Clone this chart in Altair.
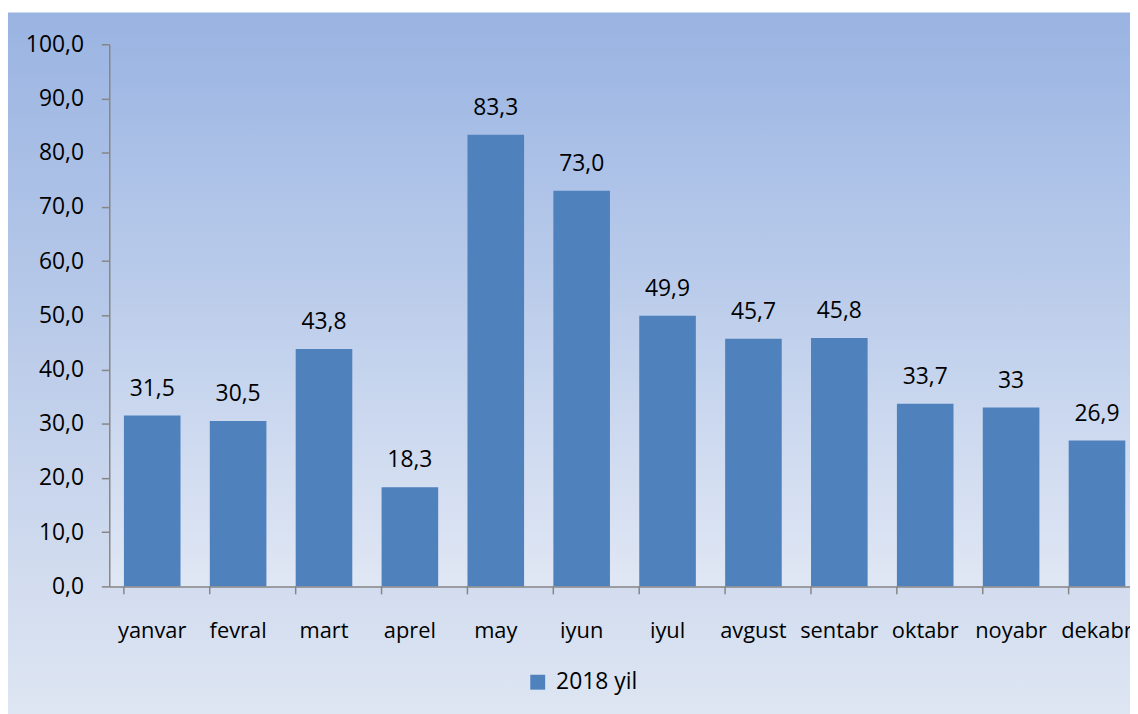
import altair as alt
import pandas as pd

months = ["yanvar", "fevral", "mart", "aprel", "may", "iyun", "iyul",
          "avgust", "sentabr", "oktabr", "noyabr", "dekabr"]
values = [31.5, 30.5, 43.8, 18.3, 83.3, 73.0, 49.9, 45.7, 45.8, 33.7, 33.0, 26.9]
labels = ["31,5", "30,5", "43,8", "18,3", "83,3", "73,0", "49,9", "45,7",
          "45,8", "33,7", "33", "26,9"]
series = "2018 yil"
y_ticks = [0, 10, 20, 30, 40, 50, 60, 70, 80, 90, 100]

df = pd.DataFrame({"month": months, "value": values, "label": labels,
                   "series": [series] * len(months)})

FONT = "Open Sans"
W, H = 1028, 546

xscale = alt.Scale(domain=months, range=[0, 1038], paddingInner=0.34, paddingOuter=0.17)
yscale = alt.Scale(domain=[0, 100], nice=False)

one = pd.DataFrame({"k": [0]})

bg = alt.Chart(one).mark_rect(
    fill=alt.Gradient(gradient="linear", x1=0, y1=0, x2=0, y2=1,
                      stops=[alt.GradientStop(color="#9AB4E2", offset=0),
                             alt.GradientStop(color="#D3DDEF", offset=0.82),
                             alt.GradientStop(color="#DEE6F3", offset=1)])
).encode(x=alt.value(-102), x2=alt.value(1060), y=alt.value(-32), y2=alt.value(680))

plot_bg = alt.Chart(one).mark_rect(
    fill=alt.Gradient(gradient="linear", x1=0, y1=0, x2=0, y2=1,
                      stops=[alt.GradientStop(color="#9CB6E3", offset=0),
                             alt.GradientStop(color="#E0E7F4", offset=1)])
).encode(x=alt.value(0), x2=alt.value(1060), y=alt.value(0), y2=alt.value(H))

bars = alt.Chart(df).mark_bar(size=57).encode(
    x=alt.X("month:N", scale=xscale, sort=months,
            axis=alt.Axis(title=None, ticks=False, domain=True, domainColor="#868686",
                          domainWidth=1.5, labelAngle=0, labelFont=FONT, labelFontSize=22,
                          labelColor="#000000", labelPadding=51, labelBaseline="alphabetic",
                          labelOverlap=False, zindex=2)),
    y=alt.Y("value:Q", scale=yscale,
            axis=alt.Axis(title=None, values=y_ticks, grid=False, domainColor="#868686",
                          domainWidth=1.5, tickColor="#868686", tickSize=8, tickWidth=1.5,
                          labelFont=FONT, labelFontSize=23, labelColor="#000000",
                          labelPadding=18, zindex=2,
                          labelExpr="replace(format(datum.value, '.1f'), '.', ',')")),
    color=alt.Color("series:N", scale=alt.Scale(range=["#4F81BD"]),
                    legend=alt.Legend(title=None, orient="none", legendX=420, legendY=631,
                                      symbolType="square", symbolSize=225,
                                      symbolStrokeWidth=0, labelFont=FONT,
                                      labelFontSize=23, labelColor="#000000",
                                      padding=0, labelOffset=7)),
)

text = alt.Chart(df).mark_text(font=FONT, fontSize=23, color="#000000",
                               baseline="alphabetic", dy=-20).encode(
    x=alt.X("month:N", scale=xscale, sort=months),
    y=alt.Y("value:Q", scale=yscale),
    text="label:N",
)

ticks = alt.Chart(df).mark_rule(color="#868686", strokeWidth=1.5).encode(
    x=alt.X("month:N", scale=xscale, sort=months, bandPosition=0),
    y=alt.value(H), y2=alt.value(H + 8),
)

chart = alt.layer(bg, plot_bg, bars, text, ticks).properties(
    width=W, height=H,
    autosize=alt.AutoSizeParams(type="none"),
    padding={"left": 102, "top": 34, "right": 0, "bottom": 126},
).configure_view(stroke=None, clip=False).configure(background="#ffffff")

chart.save("out.html", embed_options={"renderer": "svg", "actions": False})
